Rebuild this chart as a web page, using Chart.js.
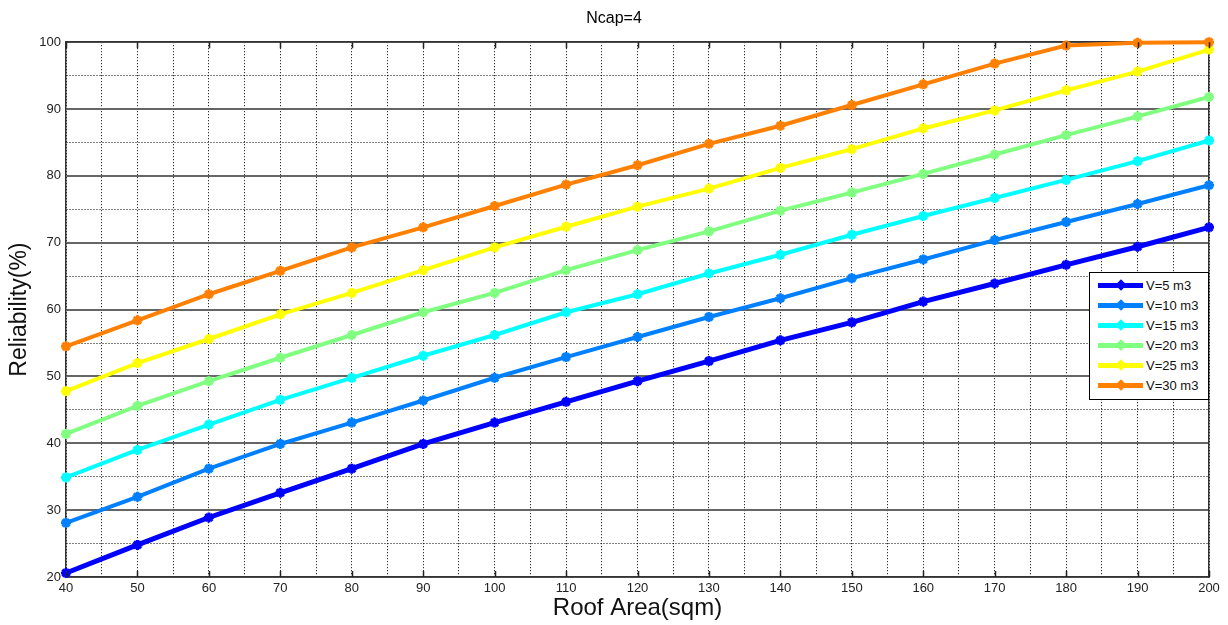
<!DOCTYPE html>
<html>
<head>
<meta charset="utf-8">
<title>Ncap=4</title>
<script src="https://cdn.jsdelivr.net/npm/chart.js@4"></script>
<style>
  html, body { margin: 0; padding: 0; background: #fff; }
  #wrap { position: relative; width: 1228px; height: 625px; }
  #legend {
    position: absolute; left: 1089px; top: 272px; width: 118px; height: 124px;
    border: 1px solid #000; background: #fff; box-sizing: content-box;
    font-family: "Liberation Sans", Arial, sans-serif; font-size: 13px; color: #111;
    padding-top: 2px;
  }
  #legend .row { position: relative; height: 20px; }
  #legend .ln { position: absolute; left: 8px; top: 8px; width: 45px; height: 5px; }
  #legend .mk { position: absolute; left: 27px; top: 6px; width: 8px; height: 8px; transform: rotate(45deg); }
  #legend .tx { position: absolute; left: 56px; top: 3px; }
</style>
</head>
<body>
<div id="wrap">
  <canvas id="chart" width="1228" height="625"></canvas>
  <div id="legend"></div>
</div>
<script>
// ================= DATA =================
const areas = [40, 50, 60, 70, 80, 90, 100, 110, 120, 130, 140, 150, 160, 170, 180, 190, 200];

const relV5  = [20.6, 24.8, 28.9, 32.6, 36.2, 39.9, 43.1, 46.2, 49.3, 52.3, 55.4, 58.1, 61.2, 63.9, 66.7, 69.4, 72.3];
const relV10 = [28.1, 32.0, 36.2, 39.9, 43.1, 46.4, 49.8, 52.9, 55.9, 58.9, 61.7, 64.7, 67.5, 70.4, 73.1, 75.8, 78.6];
const relV15 = [34.9, 39.0, 42.8, 46.5, 49.8, 53.1, 56.2, 59.6, 62.3, 65.4, 68.2, 71.2, 74.0, 76.7, 79.4, 82.2, 85.3];
const relV20 = [41.4, 45.6, 49.3, 52.8, 56.2, 59.6, 62.5, 65.9, 68.9, 71.7, 74.8, 77.5, 80.3, 83.2, 86.1, 88.9, 91.8];
const relV25 = [47.8, 52.0, 55.6, 59.3, 62.5, 65.9, 69.3, 72.4, 75.4, 78.1, 81.2, 84.0, 87.1, 89.8, 92.8, 95.6, 98.9];
const relV30 = [54.5, 58.4, 62.3, 65.8, 69.3, 72.3, 75.5, 78.7, 81.6, 84.8, 87.5, 90.6, 93.7, 96.8, 99.5, 99.9, 100.0];

const seriesLabels = ["V=5 m3", "V=10 m3", "V=15 m3", "V=20 m3", "V=25 m3", "V=30 m3"];
const seriesValues = [relV5, relV10, relV15, relV20, relV25, relV30];
const seriesColors = ["#0000ff", "#0080ff", "#00ffff", "#80ff80", "#ffff00", "#ff8000"];

const FONT = "'Liberation Sans', Arial, sans-serif";

// ================= DATASETS =================
const datasets = seriesValues.map((vals, i) => ({
  label: seriesLabels[i],
  data: vals.map((v, k) => ({ x: areas[k], y: v })),
  borderColor: seriesColors[i],
  backgroundColor: seriesColors[i],
  borderWidth: i === 0 ? 5 : 4,
  pointStyle: "star",
  pointRadius: 5,
  pointBorderWidth: 3,
  pointBorderColor: seriesColors[i],
  tension: 0,
  clip: 10,
  order: seriesValues.length - i
}));

// short inward tick marks on the top and bottom edges at every labelled x
const innerTicks = {
  id: "innerTicks",
  afterDraw(chart) {
    const { ctx, chartArea, scales } = chart;
    ctx.save();
    ctx.strokeStyle = "#222";
    ctx.lineWidth = 1.5;
    scales.x.ticks.forEach(t => {
      if (t.value % 10 !== 0) return;
      const px = Math.round(scales.x.getPixelForValue(t.value)) + 0.5;
      ctx.beginPath();
      ctx.moveTo(px, chartArea.bottom);
      ctx.lineTo(px, chartArea.bottom - 6);
      ctx.moveTo(px, chartArea.top);
      ctx.lineTo(px, chartArea.top + 6);
      ctx.stroke();
    });
    ctx.restore();
  }
};

const isMajor = c => c.tick && c.tick.value % 10 === 0;

new Chart(document.getElementById("chart"), {
  type: "line",
  data: { datasets },
  plugins: [innerTicks],
  options: {
    responsive: false,
    animation: false,
    layout: { padding: 0 },
    plugins: {
      legend: { display: false },
      tooltip: { enabled: false },
      title: {
        display: true,
        text: "Ncap=4",
        color: "#000",
        font: { family: FONT, size: 16, weight: "normal" },
        padding: { top: 9, bottom: 14 }
      }
    },
    scales: {
      x: {
        type: "linear",
        position: "bottom",
        min: 40, max: 200,
        afterFit(s) { s.height = 48; },
        ticks: {
          stepSize: 5, autoSkip: false, maxRotation: 0, padding: 4,
          color: "#222", font: { family: FONT, size: 13 },
          callback: v => (v % 10 === 0 ? v : "")
        },
        grid: { color: "#000", lineWidth: 1, drawTicks: false },
        border: { display: true, color: "#333", width: 1.5, dash: [1, 2] },
        title: {
          display: true, text: "Roof Area(sqm)", color: "#111",
          font: { family: FONT, size: 24 }, padding: { top: 0, bottom: 2 }
        }
      },
      xTop: {
        type: "linear",
        position: "top",
        min: 40, max: 200,
        afterFit(s) { s.height = 0; },
        ticks: { display: false },
        grid: { display: false },
        border: { display: true, color: "#333", width: 1.5 }
      },
      y: {
        type: "linear",
        position: "left",
        min: 20, max: 100,
        afterFit(s) { s.width = 66; },
        ticks: {
          stepSize: 5, autoSkip: false, padding: 5,
          color: "#222", font: { family: FONT, size: 13 },
          callback: v => (v % 10 === 0 ? v : "")
        },
        grid: {
          drawTicks: false,
          color: c => (isMajor(c) ? "#666" : "#000"),
          lineWidth: c => (isMajor(c) ? 2 : 1)
        },
        border: {
          display: true, color: "#333", width: 1.5,
          dash: c => (c.tick && c.tick.value % 10 !== 0 ? [1, 2] : [])
        },
        title: {
          display: true, text: "Reliability(%)", color: "#111",
          font: { family: FONT, size: 23 }, padding: { top: 6, bottom: 0 }
        }
      },
      yRight: {
        type: "linear",
        position: "right",
        min: 20, max: 100,
        afterFit(s) { s.width = 19; },
        ticks: { display: false },
        grid: { display: false },
        border: { display: true, color: "#333", width: 1.5 }
      }
    }
  }
});

// ================= LEGEND =================
const legendBox = document.getElementById("legend");
seriesLabels.forEach((name, i) => {
  legendBox.innerHTML += `
    <div class="row">
      <div class="ln" style="background:${seriesColors[i]}"></div>
      <div class="mk" style="background:${seriesColors[i]}"></div>
      <div class="tx">${name}</div>
    </div>`;
});
</script>
</body>
</html>
